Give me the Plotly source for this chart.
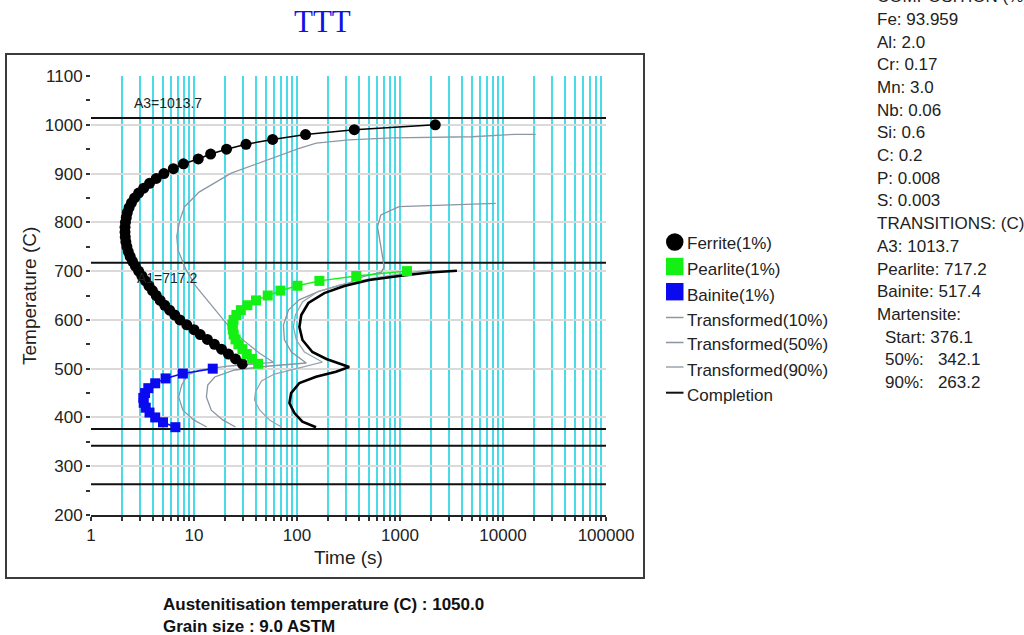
import plotly.graph_objects as go

# ---------------- data ----------------
# 1 % start curves (temperature in C, time in s)
ferrite_T = [1000, 990, 980, 970, 960, 950, 940, 930, 920, 910, 900, 890, 880, 870, 860,
             850, 840, 830, 820, 810, 800, 790, 780, 770, 760, 750, 740, 730, 720, 710,
             700, 690, 680, 670, 660, 650, 640, 630, 620, 610, 600, 590, 580, 570, 560,
             550, 540, 530, 520, 510]
ferrite_t = [2200, 360, 121, 58, 32, 20.7, 14.5, 11.0, 7.9, 6.3, 5.1, 4.3, 3.7, 3.25, 2.9,
             2.65, 2.47, 2.34, 2.25, 2.2, 2.16, 2.14, 2.14, 2.15, 2.18, 2.23, 2.3, 2.4, 2.53, 2.7,
             2.9, 3.12, 3.38, 3.65, 3.95, 4.3, 4.7, 5.2, 5.8, 6.5, 7.3, 8.5, 10.0, 11.5, 13.5,
             15.8, 18.5, 21.6, 25.3, 29.5]

pearlite_T = [700, 690, 680, 670, 660, 650, 640, 630, 620, 610, 600, 590, 580, 570, 560,
              550, 540, 530, 520, 510]
pearlite_t = [1170, 376, 165, 101, 69, 52, 40, 33, 28.5, 25.8, 24.2, 23.6, 23.8, 24.3, 25.3,
              27, 29.5, 32.5, 36.5, 42]

bainite_T = [500, 490, 480, 470, 460, 450, 440, 430, 420, 410, 400, 390, 380]
bainite_t = [15.2, 7.8, 5.3, 4.2, 3.6, 3.35, 3.22, 3.25, 3.4, 3.7, 4.2, 5.0, 6.6]

# fraction-transformed curves
t10_T = [980.5, 980.5, 975.5, 974.5, 973, 969, 962.5, 951.5, 928, 901, 862, 832, 805, 771,
         743, 702, 668, 627, 593, 559, 531.5, 513,
         505.5, 497.3, 487, 466.5, 442, 415, 395, 380.4]
t10_t = [20800, 13300, 5000, 2050, 840, 320, 154, 105, 50.6, 23, 11.2, 8.1, 7.3, 6.8,
         7.0, 8.4, 10.5, 15.3, 20.6, 29.8, 43.3, 59,
         22.2, 11.4, 8.7, 7.6, 7.1, 7.8, 9.9, 13.3]

t50_T = [839, 833.5, 832, 815, 791, 750, 709, 698, 688, 676, 659, 641, 620, 589.5, 559,
         534, 511.6,
         505.5, 497.3, 483, 466.5, 442, 415, 395, 380.4]
t50_t = [8500, 2050, 980, 652, 604, 652, 702, 660, 430, 321, 165, 105, 82.6, 73.8, 75.5,
         88.3, 123,
         54, 24.8, 15.9, 13.6, 13.2, 14.7, 19, 25.3]

t90_T = [702.3, 694, 683.8, 671.5, 657.2, 636.7, 610, 585.4, 558.8, 534.2, 513.6,
         501.4, 489, 474.7, 452.2, 435.8, 415.3, 394.8, 380.4]
t90_t = [2000, 980, 502, 257, 157, 113, 96.5, 92.3, 98.6, 118, 176,
         105.5, 60.4, 45.2, 39.6, 38.7, 43.3, 54, 70.6]

comp_T = [700.8, 697, 690, 681.8, 669.5, 655, 634.6, 610, 585.4, 558.8, 534.2, 519.8, 503.4,
          493.8, 483.5, 470.6, 450, 429.6, 409, 391.3, 379.8]
comp_t = [3570, 1913, 980, 502, 288, 184, 129, 110, 105.5, 113, 141, 193, 321,
          239, 153, 105.5, 87.7, 84.4, 94.4, 112.8, 153]

# transition temperatures (C)
a3_temp = 1013.7
a1_temp = 717.2
ms_temps = [376.1, 342.1, 263.2]

# side panel
comp_elements = ["Fe", "Al", "Cr", "Mn", "Nb", "Si", "C", "P", "S"]
comp_values = ["93.959", "2.0", "0.17", "3.0", "0.06", "0.6", "0.2", "0.008", "0.003"]
transition_names = ["A3", "Pearlite", "Bainite"]
transition_values = ["1013.7", "717.2", "517.4"]
martensite_names = ["Start:", "50%:", "90%:"]
martensite_values = ["376.1", "342.1", "263.2"]

aust_temp = "1050.0"
grain_size = "9.0"

# axis ticks
x_minor = [m * 10 ** k for k in range(5) for m in range(1, 10)] + [100000]
x_labels = [str(v) if str(v).strip("0") == "1" else "" for v in x_minor]
y_major = list(range(200, 1101, 100))
y_minor = list(range(250, 1100, 100))

# ---------------- geometry helpers (pixels -> paper) ----------------
W, H = 1024, 635
PL, PR, PT, PB = 91, 606, 76, 515


def fx(p):
    return (p - PL) / (PR - PL)


def fy(p):
    return (PB - p) / (PB - PT)


FONT = "Liberation Sans, Arial, sans-serif"
CYAN = "#4adbe9"
GREEN = "#14f014"
BLUE = "#0a0af0"
GREY10 = "#8c98a6"
GREY50 = "#8a94a0"
GREY90 = "#9aa4ae"

fig = go.Figure()

# horizontal transition lines
for temp in [a3_temp, a1_temp] + ms_temps:
    fig.add_trace(go.Scatter(x=[1, 100000], y=[temp, temp], mode="lines",
                             line=dict(color="#111111", width=2), showlegend=False,
                             hoverinfo="skip"))

# transformed fractions
fig.add_trace(go.Scatter(x=t10_t, y=t10_T, mode="lines", name="Transformed(10%)",
                         line=dict(color=GREY10, width=1.3), showlegend=False))
fig.add_trace(go.Scatter(x=t50_t, y=t50_T, mode="lines", name="Transformed(50%)",
                         line=dict(color=GREY50, width=1.3), showlegend=False))
fig.add_trace(go.Scatter(x=t90_t, y=t90_T, mode="lines", name="Transformed(90%)",
                         line=dict(color=GREY90, width=1.3), showlegend=False))
fig.add_trace(go.Scatter(x=comp_t, y=comp_T, mode="lines", name="Completion",
                         line=dict(color="#000000", width=2.6), showlegend=False))

# start curves
fig.add_trace(go.Scatter(x=ferrite_t, y=ferrite_T, mode="lines+markers", name="Ferrite(1%)",
                         line=dict(color="#000000", width=1.5),
                         marker=dict(symbol="circle", size=11, color="#000000"),
                         showlegend=False))
fig.add_trace(go.Scatter(x=pearlite_t, y=pearlite_T, mode="lines+markers", name="Pearlite(1%)",
                         line=dict(color=GREEN, width=1.5),
                         marker=dict(symbol="square", size=10, color=GREEN),
                         showlegend=False))
fig.add_trace(go.Scatter(x=bainite_t, y=bainite_T, mode="lines+markers", name="Bainite(1%)",
                         line=dict(color=BLUE, width=1.5),
                         marker=dict(symbol="square", size=10, color=BLUE),
                         showlegend=False))

annotations = []
shapes = []

# line labels
annotations.append(dict(x=0, y=a3_temp, xref="x", yref="y", text=f"A3={a3_temp}",
                        showarrow=False, xanchor="left", yanchor="middle", xshift=41,
                        yshift=15, font=dict(family=FONT, size=14, color="#222222")))
annotations.append(dict(x=0, y=a1_temp, xref="x", yref="y", text=f"A1={a1_temp}",
                        showarrow=False, xanchor="left", yanchor="middle", xshift=44,
                        yshift=-15, font=dict(family=FONT, size=14, color="#222222")))

# title
annotations.append(dict(x=fx(322), y=fy(22), xref="paper", yref="paper", text="TTT",
                        showarrow=False, xanchor="center", yanchor="middle",
                        font=dict(family="Liberation Serif, Times New Roman, serif", size=31,
                                  color="#1212e6")))

# axis titles
annotations.append(dict(x=fx(348.5), y=fy(557), xref="paper", yref="paper", text="Time (s)",
                        showarrow=False, xanchor="center", yanchor="middle",
                        font=dict(family=FONT, size=19, color="#222222")))
annotations.append(dict(x=fx(29), y=fy(296), xref="paper", yref="paper",
                        text="Temperature (C)", textangle=-90, showarrow=False,
                        xanchor="center", yanchor="middle",
                        font=dict(family=FONT, size=19, color="#222222")))

# footer
footer_font = dict(family=FONT, size=17, color="#111111")
annotations.append(dict(x=fx(161), y=fy(604), xref="paper", yref="paper",
                        text=f"<b>Austenitisation temperature (C) : {aust_temp}</b>",
                        showarrow=False, xanchor="left", yanchor="middle", font=footer_font))
annotations.append(dict(x=fx(161), y=fy(626), xref="paper", yref="paper",
                        text=f"<b>Grain size : {grain_size} ASTM</b>",
                        showarrow=False, xanchor="left", yanchor="middle", font=footer_font))

# side panel text
side_lines = ["COMPOSITION (%)"]
side_lines += [f"{e}: {v}" for e, v in zip(comp_elements, comp_values)]
side_lines += ["TRANSITIONS: (C)"]
side_lines += [f"{n}: {v}" for n, v in zip(transition_names, transition_values)]
side_lines += ["Martensite:"]
side_indent = []
for n, v in zip(martensite_names, martensite_values):
    gap = " " if n == "Start:" else "&nbsp;&nbsp;&nbsp;"
    side_indent.append(f"{n}{gap}{v}")
side_font = dict(family=FONT, size=17, color="#222222")
y0 = -3.4
step = 22.7
for i, txt in enumerate(side_lines):
    annotations.append(dict(x=fx(875), y=fy(y0 + i * step), xref="paper", yref="paper",
                            text=txt, showarrow=False, xanchor="left", yanchor="middle",
                            font=side_font))
for j, txt in enumerate(side_indent):
    i = len(side_lines) + j
    annotations.append(dict(x=fx(883), y=fy(y0 + i * step), xref="paper", yref="paper",
                            text=txt, showarrow=False, xanchor="left", yanchor="middle",
                            font=side_font))

# legend
legend_font = dict(family=FONT, size=17, color="#222222")
legend_rows = [
    ("Ferrite(1%)", "circle", "#000000", 242, 244),
    ("Pearlite(1%)", "square", GREEN, 266.5, 269.5),
    ("Bainite(1%)", "square", BLUE, 291.7, 295),
    ("Transformed(10%)", "line", GREY10, 317.5, 320),
    ("Transformed(50%)", "line", GREY50, 342.5, 344.5),
    ("Transformed(90%)", "line", GREY90, 367, 370),
    ("Completion", "line", "#111111", 392.7, 395),
]
for label, kind, color, sy, ty in legend_rows:
    if kind == "circle":
        shapes.append(dict(type="circle", xref="paper", yref="paper", x0=fx(666), x1=fx(683.5),
                           y0=fy(sy + 8.7), y1=fy(sy - 8.7), fillcolor=color,
                           line=dict(width=0)))
    elif kind == "square":
        shapes.append(dict(type="rect", xref="paper", yref="paper", x0=fx(666), x1=fx(683.5),
                           y0=fy(sy + 8.7), y1=fy(sy - 8.7), fillcolor=color,
                           line=dict(width=0)))
    else:
        shapes.append(dict(type="line", xref="paper", yref="paper", x0=fx(666), x1=fx(683.5),
                           y0=fy(sy), y1=fy(sy),
                           line=dict(color=color, width=2 if label == "Completion" else 1.5)))
    annotations.append(dict(x=fx(685), y=fy(ty), xref="paper", yref="paper", text=label,
                            showarrow=False, xanchor="left", yanchor="middle",
                            font=legend_font))

# outer frame
shapes.append(dict(type="rect", xref="paper", yref="paper", x0=fx(6), x1=fx(644),
                   y0=fy(578), y1=fy(54), line=dict(color="#3c3c3c", width=2),
                   fillcolor="rgba(0,0,0,0)", layer="below"))

tick_font = dict(family=FONT, size=17, color="#222222")

fig.update_layout(
    width=W, height=H,
    margin=dict(l=PL, r=W - PR, t=PT, b=H - PB, pad=0),
    paper_bgcolor="white", plot_bgcolor="white",
    showlegend=False,
    annotations=annotations,
    shapes=shapes,
    xaxis=dict(type="log", range=[0, 5], tickmode="array", tickvals=x_minor,
               ticktext=x_labels, showgrid=True, gridcolor=CYAN, gridwidth=2,
               ticks="outside", ticklen=4, tickwidth=1.5, tickcolor="#333333",
               showline=True, linecolor="#222222", linewidth=2, zeroline=False,
               tickfont=tick_font, fixedrange=True),
    xaxis2=dict(type="log", range=[0, 5], tickmode="array", tickvals=x_minor,
                overlaying="x", anchor="y", side="bottom", ticks="inside", ticklen=4,
                tickwidth=1.5, tickcolor="#333333", showticklabels=False,
                showgrid=False, showline=False, zeroline=False, fixedrange=True),
    yaxis=dict(range=[200, 1100], tickmode="array", tickvals=y_major,
               showgrid=True, gridcolor="#dadada", gridwidth=1.5,
               ticks="outside", ticklen=4, tickwidth=1.5, tickcolor="#333333",
               minor=dict(tickmode="array", tickvals=y_minor, ticks="outside", ticklen=4,
                          tickwidth=1.5, tickcolor="#333333", showgrid=False),
               showline=False, zeroline=False, tickfont=tick_font, fixedrange=True),
    yaxis2=dict(range=[200, 1100], tickmode="array", tickvals=y_major + y_minor,
                overlaying="y", anchor="x", side="left", ticks="inside", ticklen=4,
                tickwidth=1.5, tickcolor="#333333", showticklabels=False,
                showgrid=False, showline=False, zeroline=False, fixedrange=True),
)

fig.write_html("out.html")
